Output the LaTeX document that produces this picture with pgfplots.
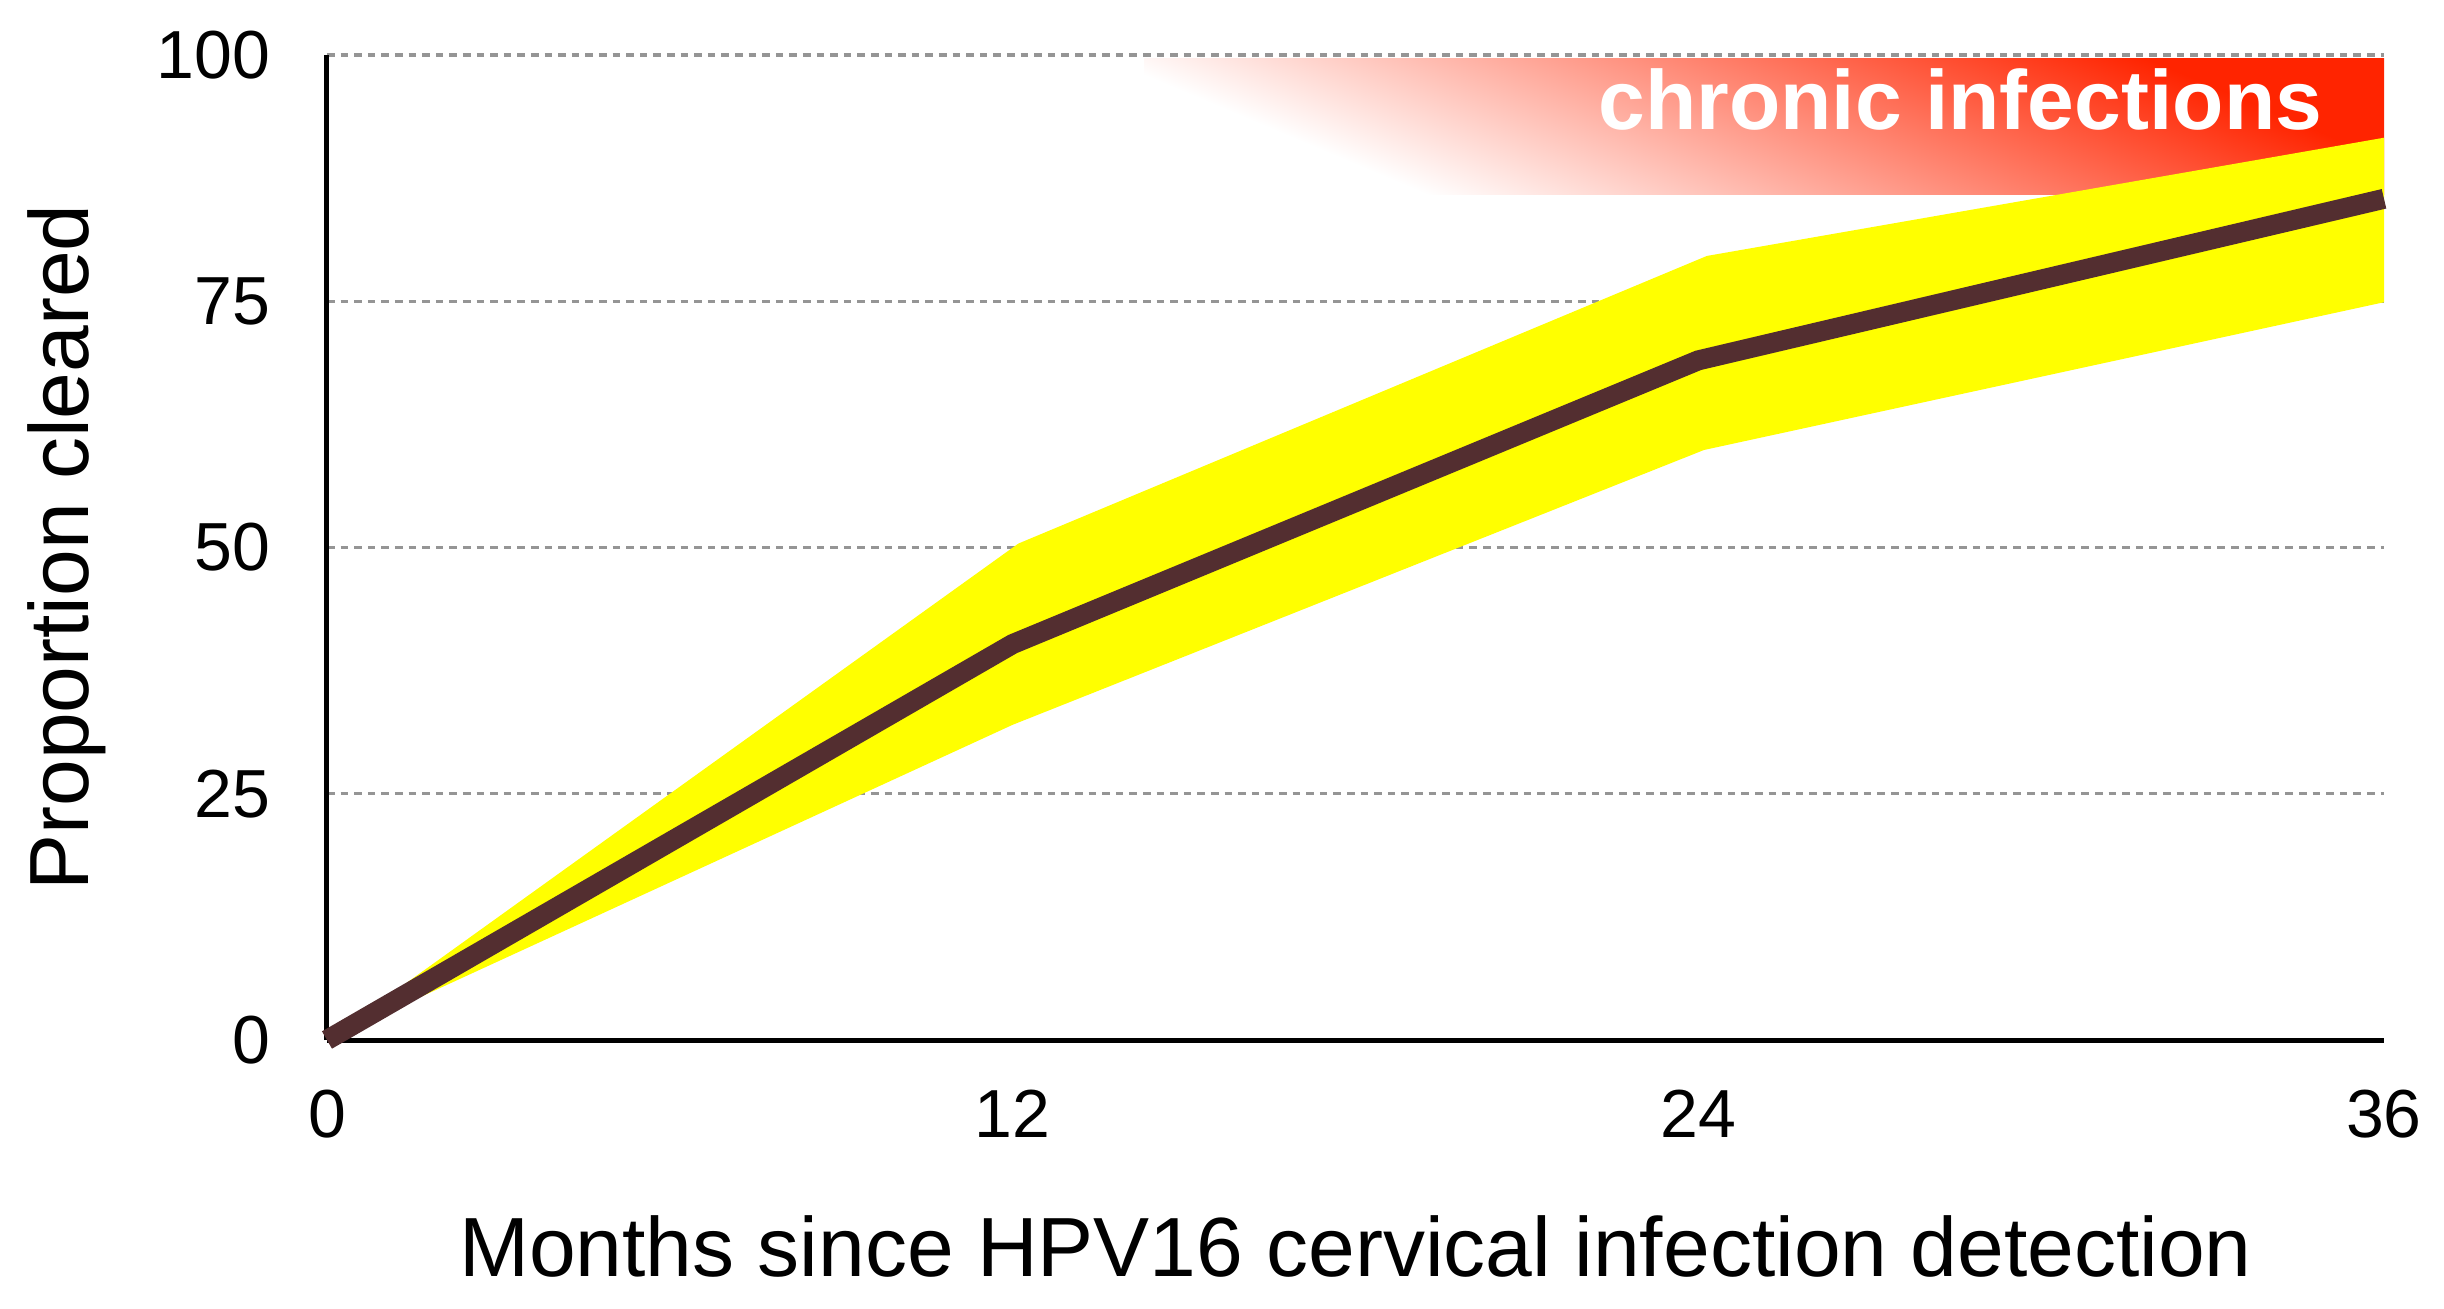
\documentclass[border=0pt]{standalone}
\usepackage{pgfplots}
\pgfplotsset{compat=1.18}
\usepackage{fontspec}
\setmainfont{Liberation Sans}
\usetikzlibrary{calc}

\definecolor{bandyellow}{HTML}{FFFF00}
\definecolor{meanbrown}{HTML}{532E30}
\definecolor{chronicred}{HTML}{FF2400}
\definecolor{gridgray}{HTML}{959595}
% white -> red, tilted so that the fade runs from lower left to upper right
\pgfdeclareverticalshading{chronicfade}{100bp}{color(0bp)=(white); color(29bp)=(white); color(73bp)=(chronicred); color(100bp)=(chronicred)}

\begin{document}
\begin{tikzpicture}
\begin{axis}[
  name=ax,
  width=514.25pt, height=246.25pt, scale only axis,
  xmin=0, xmax=36, ymin=0, ymax=100,
  xtick={0,12,24,36}, ytick={0,25,50,75,100},
  axis lines*=left,
  axis line style={line width=1.25pt, black},
  major tick length=0pt,
  ymajorgrids,
  grid style={gridgray, line width=0.8pt, dash pattern=on 1.9pt off 1.5pt},
  clip=false,
  /pgf/number format/assume math mode=true,
  xticklabel style={font=\fontsize{17}{20}\selectfont, anchor=north, inner sep=0pt, yshift=-12.25pt},
  yticklabel style={font=\fontsize{17}{20}\selectfont, anchor=east, inner sep=0pt, xshift=-14pt},
  xlabel={Months since HPV16 cervical infection detection},
  ylabel={Proportion cleared},
  label style={font=\fontsize{21}{24}\selectfont, inner sep=0pt},
  x label style={at={(axis description cs:0.5,-0.2406)}, anchor=base},
  y label style={at={(axis description cs:-0.1157,0.5)}, anchor=base},
]
  % chronic-infection zone
  \addplot[draw=none, shading=chronicfade, shading angle=-22.9]
    coordinates {(14.3,99.6) (36,99.6) (36,85.8) (14.3,85.8)} -- cycle;
  % confidence band
  \addplot[draw=none, fill=bandyellow]
    coordinates {(0,0) (12.1,50.4) (24.15,79.6) (36,91.6) (36,74.9) (24.1,59.9) (12,32.0) (0,0)} -- cycle;
  % proportion cleared
  \addplot[meanbrown, line width=5pt]
    coordinates {(0,0) (12,40.2) (24,69.0) (36,85.4)};
  \node[anchor=base east, inner sep=0pt, text=white, font=\bfseries\fontsize{21}{24}\selectfont]
    at (axis cs:34.93,92.4) {chronic infections};
\end{axis}
\pgfresetboundingbox
\path ($(ax.south west)+(-81.75pt,-67pt)$) rectangle ($(ax.north east)+(15pt,13.75pt)$);
\end{tikzpicture}
\end{document}
